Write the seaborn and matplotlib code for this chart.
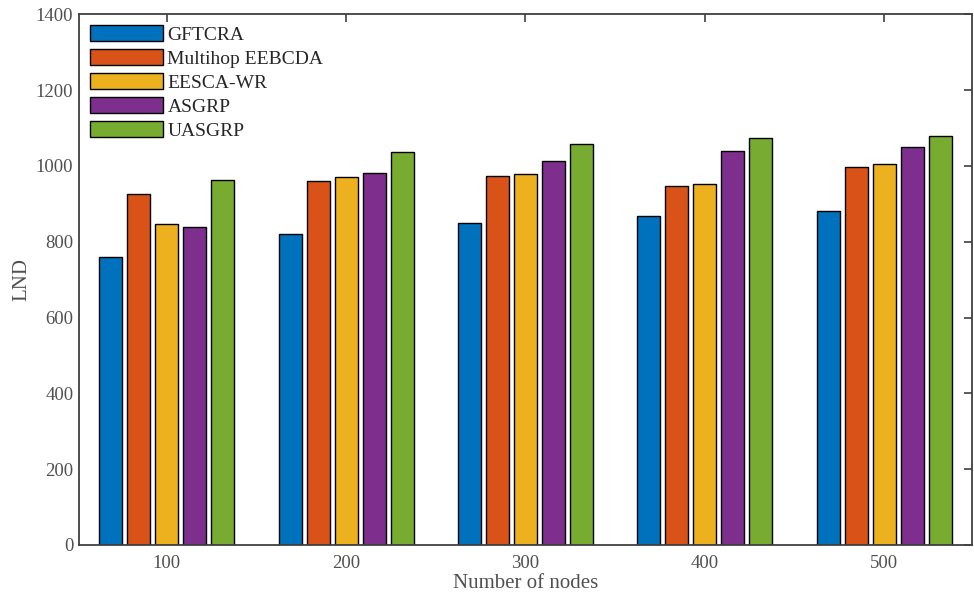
import matplotlib
matplotlib.use("Agg")
import matplotlib.pyplot as plt
import pandas as pd
import seaborn as sns

# data
nodes = ["100", "200", "300", "400", "500"]
methods = ["GFTCRA", "Multihop EEBCDA", "EESCA-WR", "ASGRP", "UASGRP"]
gftcra = [759, 819, 848, 868, 882]
multihop = [925, 960, 972, 946, 998]
eesca = [846, 970, 979, 953, 1005]
asgrp = [838, 981, 1014, 1038, 1050]
uasgrp = [962, 1037, 1059, 1073, 1080]
colors = ["#0072BD", "#D95319", "#EDB120", "#7E2F8E", "#77AC30"]

rows = []
for name, vals in zip(methods, [gftcra, multihop, eesca, asgrp, uasgrp]):
    for n, v in zip(nodes, vals):
        rows.append({"Nodes": n, "Method": name, "LND": v})
df = pd.DataFrame(rows)

sns.set_theme(style="white")
plt.rcParams["font.family"] = ["Liberation Serif", "DejaVu Serif"]
plt.rcParams["axes.edgecolor"] = "#404040"
plt.rcParams["xtick.color"] = "#404040"
plt.rcParams["ytick.color"] = "#404040"

fig = plt.figure(figsize=(9.74, 5.93), dpi=100)
ax = fig.add_axes([0.081, 0.081, 0.917, 0.895])

sns.barplot(data=df, x="Nodes", y="LND", hue="Method", hue_order=methods,
            order=nodes, palette=colors, saturation=1, width=0.78, gap=0.18,
            edgecolor="black", linewidth=1.0, ax=ax)

ax.set_xlim(-0.49, 4.49)
ax.set_ylim(0, 1400)
ax.set_yticks(range(0, 1401, 200))
ax.set_xlabel("Number of nodes", fontsize=15, color="#505050", labelpad=1.5)
ax.set_ylabel("LND", fontsize=15, color="#505050", labelpad=3)
ax.tick_params(direction="in", top=True, right=True, length=6, width=1.2,
               labelsize=13.5, labelcolor="#505050")
ax.tick_params(axis="x", pad=7)
ax.tick_params(axis="y", pad=4)
for s in ax.spines.values():
    s.set_linewidth(1.3)
    s.set_visible(True)

ax.legend(loc="upper left", frameon=False, fontsize=14, handlelength=3.75,
          handleheight=0.9, labelspacing=0.27, handletextpad=0.25,
          borderaxespad=0.25, borderpad=0.3, bbox_to_anchor=(0.0, 1.0))

fig.savefig("out.png", dpi=100)
